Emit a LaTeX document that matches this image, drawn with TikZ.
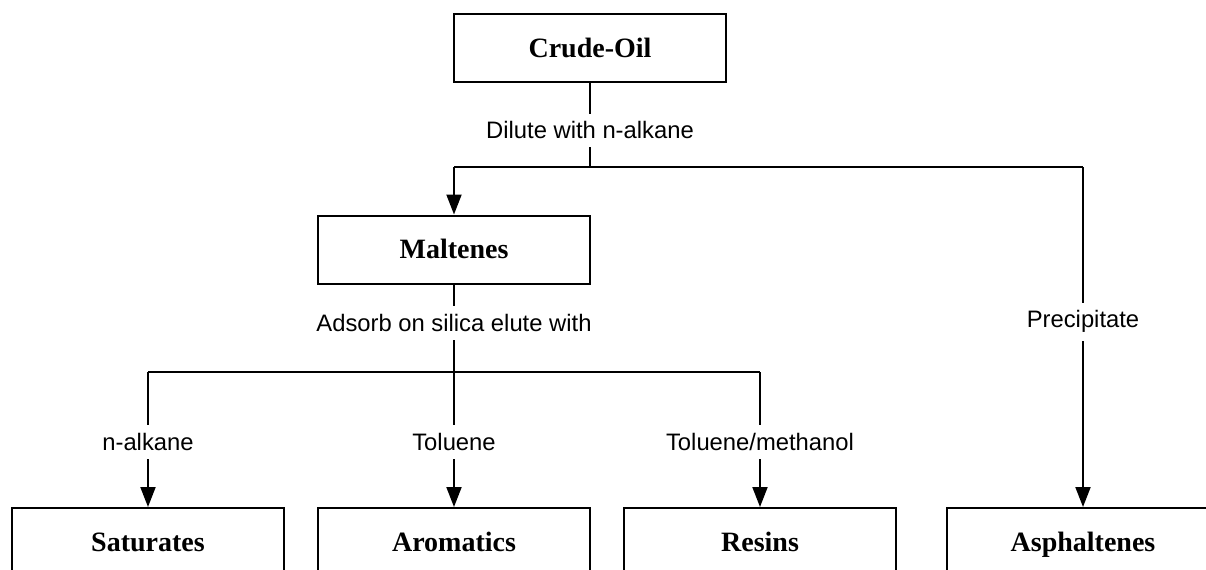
\documentclass[tikz,border=0pt]{standalone}
\usepackage{fontspec}
\setmainfont{Liberation Serif}
\setsansfont{Liberation Sans}
\usetikzlibrary{arrows.meta, positioning}

\begin{document}
\begin{tikzpicture}[x=0.5pt, y=-0.5pt,
    box/.style={draw, line width=1pt, minimum width=136pt, minimum height=34pt,
        inner sep=0pt, text height=11pt, text depth=2pt,
        font=\fontsize{14}{16}\selectfont\bfseries},
    lbl/.style={fill=white, inner xsep=1pt, inner ysep=4pt,
        font=\sffamily\fontsize{11.9}{14}\selectfont},
    flow/.style={line width=1pt},
    arr/.style={flow, -{Triangle[length=10pt, width=7.5pt]}}]
\useasboundingbox (0,0) rectangle (1206,569);
\clip (0,0) rectangle (1206,569);

% fractions
\node[box] (crude) at (590,48) {Crude-Oil};
\node[box] (malt) at (454,249.5) {Maltenes};
\foreach \nm/\txt/\xx in {sat/Saturates/148, arom/Aromatics/454, res/Resins/760, asph/Asphaltenes/1083}{
    \node[box] (\nm) at (\xx,542) {\txt};
}

% dilute step
\coordinate (split1) at (590,167);
\draw[flow] (crude) -- node[lbl, pos=0.565] {Dilute with n-alkane} (split1);
\draw[flow] (malt |- split1) -- (asph |- split1);
\draw[arr] (malt |- split1) -- (malt);
\draw[arr] (asph |- split1) -- node[lbl, pos=0.455] {Precipitate} (asph);

% silica step
\coordinate (split2) at (454,372);
\draw[flow] (malt) -- node[lbl, pos=0.44] {Adsorb on silica elute with} (split2);
\draw[flow] (sat |- split2) -- (res |- split2);
\foreach \nm/\txt in {sat/n-alkane, arom/Toluene, res/{Toluene/methanol}}{
    \draw[arr] (\nm |- split2) -- node[lbl, pos=0.52] {\txt} (\nm);
}
\end{tikzpicture}
\end{document}
